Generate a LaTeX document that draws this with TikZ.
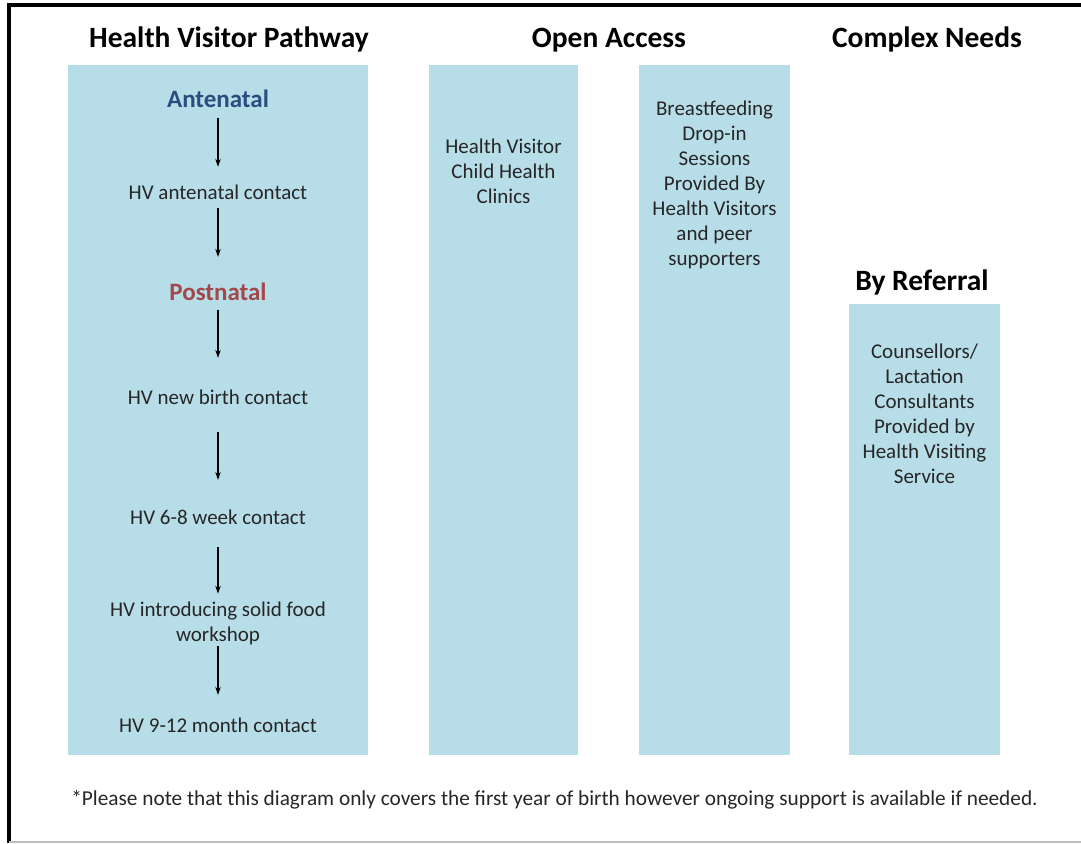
\documentclass[tikz,border=0pt]{standalone}
\usepackage{fontspec}
\setmainfont{Carlito}
\usetikzlibrary{arrows.meta}

\definecolor{panel}{HTML}{B7DDE8}
\definecolor{ink}{HTML}{262626}
\definecolor{antecol}{HTML}{2B4C7E}
\definecolor{postcol}{HTML}{A3484A}

\begin{document}
\begin{tikzpicture}[x=1pt, y=-1pt,
                    column/.style={rectangle, fill=panel, inner sep=0pt},
                    heading/.style={font=\fontsize{29.5}{34}\selectfont\bfseries, text height=20.6pt, text depth=5.9pt, inner sep=0pt},
                    phase/.style={font=\fontsize{25}{30}\selectfont\bfseries, text height=17.5pt, text depth=5pt, inner sep=0pt},
                    stage/.style={font=\fontsize{21}{25}\selectfont, text=ink, text height=14.7pt, text depth=4.2pt, inner sep=0pt},
                    info/.style={font=\fontsize{21}{25}\selectfont, text=ink, align=center, inner sep=0pt},
                    flow/.style={-{Stealth[length=8pt, width=5.5pt]}, line width=1.2pt, black}]

    \useasboundingbox (0,0) rectangle (1081,843);

    % Frame
    \draw[line width=4pt] (9,843) -- (9,5) -- (1081,5);
    \draw[gray!50, line width=1.5pt] (9,842) -- (1081,842);

    % Columns
    \node[column, minimum width=300pt, minimum height=690pt] (pathway) at (218,410) {};
    \node[column, minimum width=149pt, minimum height=690pt] (clinics) at (503.5,410) {};
    \node[column, minimum width=151pt, minimum height=690pt] (dropin) at (714.5,410) {};
    \node[column, minimum width=151pt, minimum height=451pt] (referral) at (924.5,529.5) {};

    % Headings
    \node[heading] (pathwaytitle) at (229,40) {Health Visitor Pathway};
    \node[heading] (opentitle) at (609,40) {Open Access};
    \node[heading] (complextitle) at (927,40) {Complex Needs};
    \node[heading] (referraltitle) at (922,283) {By Referral};

    % Nodes
    \node[phase, text=antecol] (antenatal) at (218,101) {Antenatal};
    \node[stage] (ancontact) at (218,194) {HV antenatal contact};
    \node[phase, text=postcol] (postnatal) at (218,294) {Postnatal};
    \node[stage] (newbirth) at (218,399) {HV new birth contact};
    \node[stage] (weeks) at (218,519) {HV 6-8 week contact};
    \node[info] (solids) at (218,623.6) {HV introducing solid food\\workshop};
    \node[stage] (months) at (218,727) {HV 9-12 month contact};

    \node[info] (hvclinic) at (503.5,171) {Health Visitor\\Child Health\\Clinics};
    \node[info] (bfsession) at (714.5,185) {Breastfeeding\\Drop-in\\Sessions\\Provided By\\Health Visitors\\and peer\\supporters};
    \node[info] (lactation) at (924.5,414) {Counsellors/\\Lactation\\Consultants\\Provided by\\Health Visiting\\Service};

    \node[info, font=\fontsize{21.3}{25}\selectfont] (footnote) at (554.5,800) {*Please note that this diagram only covers the first year of birth however ongoing support is available if needed.};

    % Paths
    \draw[flow, shorten <=5.7pt, shorten >=17.5pt] (antenatal) -- (ancontact);
    \draw[flow, shorten <=4.5pt, shorten >=25.7pt] (ancontact) -- (postnatal);
    \draw[flow, shorten <=4.7pt, shorten >=31.5pt] (postnatal) -- (newbirth);
    \draw[flow, shorten <=23.5pt, shorten >=29.5pt] (newbirth) -- (weeks);
    \draw[flow, shorten <=18.5pt, shorten >=8.3pt] (weeks) -- (solids);
    \draw[flow, shorten <=1pt, shorten >=22.5pt] (solids) -- (months);

\end{tikzpicture}
\end{document}
